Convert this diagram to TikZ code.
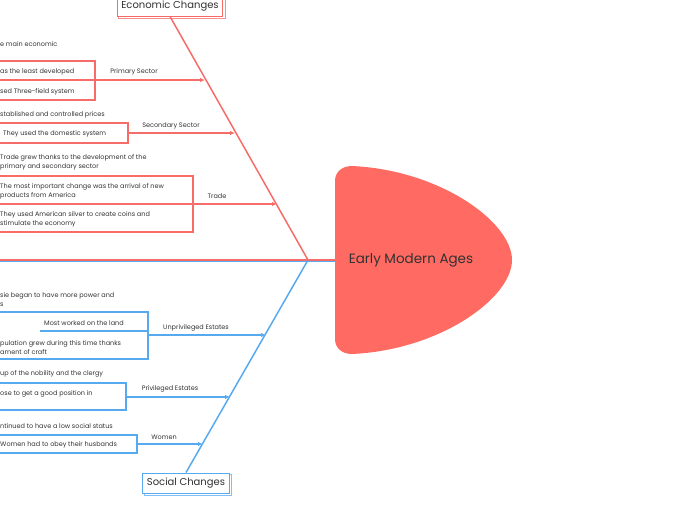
\documentclass[tikz,border=0pt]{standalone}
\usepackage{fontspec}
\setmainfont{Poppins}
\usetikzlibrary{arrows.meta,positioning,calc,backgrounds}

\definecolor{ecored}{RGB}{246,108,104}
\definecolor{socblue}{RGB}{88,170,240}
\definecolor{headred}{RGB}{255,106,98}
\definecolor{inkgrey}{RGB}{50,50,50}

\tikzset{
  leaf/.style={anchor=west, inner sep=0pt, text=inkgrey, align=left,
    font=\fontsize{6.5}{9}\selectfont},
  twig/.style={inner sep=0pt, text=inkgrey, font=\fontsize{6.5}{9}\selectfont},
  ecoline/.style={draw=ecored, line width=1.1pt},
  socline/.style={draw=socblue, line width=1.1pt},
  bone/.style={line width=1.5pt},
  tip/.style={-{Latex[length=5pt,width=4.5pt]}},
  topic/.style={fill=white, line width=1pt, minimum height=20pt, inner xsep=4pt,
    text=inkgrey, font=\fontsize{10}{12}\selectfont},
}

\begin{document}
\begin{tikzpicture}[x=1pt, y=-1pt]
        \useasboundingbox (0,0) rectangle (696,520);

        % head of the fish
        \fill[headred] (335,260) -- (335,181) .. controls (335,172) and (342,166) .. (352,166)
            .. controls (440,170) and (512,222) .. (512,260)
            .. controls (512,298) and (440,350) .. (352,354)
            .. controls (342,354) and (335,348) .. (335,339) -- cycle;
        \node[text=inkgrey, font=\fontsize{13.5}{15}\selectfont] (head) at (411,260) {Early Modern Ages};

        \coordinate (fork) at (308,260);
        \coordinate (tail) at (-5,260);
        \coordinate (headedge) at (335,260);

        % spine
        \draw[socline, line width=0.8pt] (-5,261) -- (335,261);
        \draw[ecoline, bone] (tail) -- (headedge);

        % topics
        \node[topic, draw=ecored] (eco) at (170,6) {Economic Changes};
        \node[topic, draw=socblue] (soc) at (186,483) {Social Changes};
        \begin{scope}[on background layer]
          \draw[ecoline, line width=1pt, draw=ecored!75, fill=white] ($(eco.south west)+(2,2)$) rectangle ($(eco.north east)+(2,2)$);
          \draw[socline, line width=1pt, draw=socblue!75, fill=white] ($(soc.south west)+(2,2)$) rectangle ($(soc.north east)+(2,2)$);
        \end{scope}

        \draw[ecoline, bone] (eco.south) -- (fork);
        \draw[socline, bone] (soc.north) -- (fork);

        % Economic Changes
        \coordinate (prim) at (205,80);
        \coordinate (sec) at (235,133);
        \coordinate (trd) at (277,204);

        \node[leaf] (pri0) at (0,44) {e main economic};
        \draw[ecoline] (-5,61) rectangle (95,100);
        \draw[ecoline] (-5,80) -- (95,80);
        \node[leaf] (pri1) at (0,72) {as the least developed};
        \node[leaf] (pri2) at (0,92) {sed Three-field system};
        \coordinate (prib) at (95,80);
        \draw[ecoline, tip] (prib) -- (prim);
        \node[twig] (pril) at (134,72) {Primary Sector};

        \node[leaf] (sec0) at (0,115) {stablished and controlled prices};
        \draw[ecoline] (-5,123) rectangle (128,143);
        \node[leaf] (sec1) at (3,134) {They used the domestic system};
        \coordinate (secb) at (128,133);
        \draw[ecoline, tip] (secb) -- (sec);
        \node[twig] (secl) at (171,126) {Secondary Sector};

        \node[leaf] (trd0) at (0,162.5) {Trade grew thanks to the development of the\\primary and secondary sector};
        \draw[ecoline] (-5,176) rectangle (193,232);
        \draw[ecoline] (-5,204) -- (193,204);
        \node[leaf] (trd1) at (0,191.5) {The most important change was the arrival of new\\products from America};
        \node[leaf] (trd2) at (0,219.5) {They used American silver to create coins and\\stimulate the economy};
        \coordinate (trdb) at (193,204);
        \draw[ecoline, tip] (trdb) -- (trd);
        \node[twig] (trdl) at (217,196) {Trade};

        % Social Changes
        \coordinate (unpr) at (266,335);
        \coordinate (priv) at (230,397);
        \coordinate (wom) at (203,444);

        \node[leaf] (unp0) at (0,299.5) {sie began to have more power and\\s};
        \draw[socline] (-5,312) rectangle (148,359);
        \draw[socline] (40,331) -- (148,331);
        \node[leaf] (unp1) at (44,323) {Most worked on the land};
        \node[leaf] (unp2) at (0,347.5) {pulation grew during this time thanks\\ament of craft};
        \coordinate (unpb) at (148,335);
        \draw[socline, tip] (unpb) -- (unpr);
        \node[twig] (unpl) at (196,328) {Unprivileged Estates};

        \node[leaf] (prv0) at (0,374) {up of the nobility and the clergy};
        \draw[socline] (-5,383) rectangle (126,410);
        \node[leaf] (prv1) at (0,394) {ose to get a good position in};
        \coordinate (prvb) at (126,397);
        \draw[socline, tip] (prvb) -- (priv);
        \node[twig] (prvl) at (170,389) {Privileged Estates};

        \node[leaf] (wom0) at (0,426) {ntinued to have a low social status};
        \draw[socline] (-5,435) rectangle (137,453);
        \node[leaf] (wom1) at (0,445) {Women had to obey their husbands};
        \coordinate (womb) at (137,444);
        \draw[socline, tip] (womb) -- (wom);
        \node[twig] (woml) at (164,437) {Women};

\end{tikzpicture}
\end{document}
